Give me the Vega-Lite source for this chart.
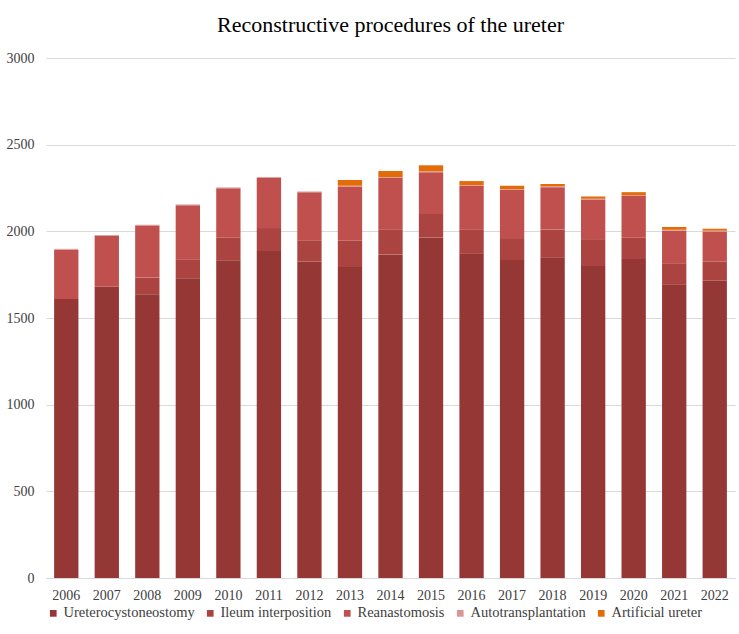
{
  "$schema": "https://vega.github.io/schema/vega-lite/v6.json",
  "width": 739,
  "height": 634,
  "autosize": {"type": "fit", "contains": "padding"},
  "padding": {"left": 6, "right": 4, "top": 14, "bottom": 14},
  "background": "white",
  "title": {
    "text": "Reconstructive procedures of the ureter",
    "font": "Liberation Serif",
    "fontSize": 22,
    "fontWeight": "normal",
    "color": "#000000",
    "offset": 14
  },
  "datasets": {
    "series": [
      {"procedure": "Ureterocystoneostomy", "rank": 1},
      {"procedure": "Ileum interposition", "rank": 2},
      {"procedure": "Reanastomosis", "rank": 3},
      {"procedure": "Autotransplantation", "rank": 4},
      {"procedure": "Artificial ureter", "rank": 5}
    ]
  },
  "data": {
    "values": [
      {"year": "2006", "Ureterocystoneostomy": 1610, "Ileum interposition": 0, "Reanastomosis": 284, "Autotransplantation": 5, "Artificial ureter": 0},
      {"year": "2007", "Ureterocystoneostomy": 1680, "Ileum interposition": 0, "Reanastomosis": 294, "Autotransplantation": 5, "Artificial ureter": 0},
      {"year": "2008", "Ureterocystoneostomy": 1637, "Ileum interposition": 96, "Reanastomosis": 300, "Autotransplantation": 5, "Artificial ureter": 0},
      {"year": "2009", "Ureterocystoneostomy": 1729, "Ileum interposition": 110, "Reanastomosis": 311, "Autotransplantation": 5, "Artificial ureter": 0},
      {"year": "2010", "Ureterocystoneostomy": 1833, "Ileum interposition": 130, "Reanastomosis": 285, "Autotransplantation": 5, "Artificial ureter": 0},
      {"year": "2011", "Ureterocystoneostomy": 1886, "Ileum interposition": 133, "Reanastomosis": 289, "Autotransplantation": 5, "Artificial ureter": 0},
      {"year": "2012", "Ureterocystoneostomy": 1826, "Ileum interposition": 122, "Reanastomosis": 278, "Autotransplantation": 4, "Artificial ureter": 0},
      {"year": "2013", "Ureterocystoneostomy": 1794, "Ileum interposition": 154, "Reanastomosis": 310, "Autotransplantation": 5, "Artificial ureter": 33},
      {"year": "2014", "Ureterocystoneostomy": 1867, "Ileum interposition": 145, "Reanastomosis": 296, "Autotransplantation": 5, "Artificial ureter": 35},
      {"year": "2015", "Ureterocystoneostomy": 1965, "Ileum interposition": 135, "Reanastomosis": 241, "Autotransplantation": 5, "Artificial ureter": 35},
      {"year": "2016", "Ureterocystoneostomy": 1870, "Ileum interposition": 142, "Reanastomosis": 250, "Autotransplantation": 5, "Artificial ureter": 23},
      {"year": "2017", "Ureterocystoneostomy": 1834, "Ileum interposition": 127, "Reanastomosis": 278, "Autotransplantation": 5, "Artificial ureter": 19},
      {"year": "2018", "Ureterocystoneostomy": 1847, "Ileum interposition": 163, "Reanastomosis": 245, "Autotransplantation": 5, "Artificial ureter": 13},
      {"year": "2019", "Ureterocystoneostomy": 1800, "Ileum interposition": 155, "Reanastomosis": 228, "Autotransplantation": 5, "Artificial ureter": 13},
      {"year": "2020", "Ureterocystoneostomy": 1840, "Ileum interposition": 123, "Reanastomosis": 241, "Autotransplantation": 5, "Artificial ureter": 17},
      {"year": "2021", "Ureterocystoneostomy": 1694, "Ileum interposition": 122, "Reanastomosis": 188, "Autotransplantation": 5, "Artificial ureter": 16},
      {"year": "2022", "Ureterocystoneostomy": 1716, "Ileum interposition": 110, "Reanastomosis": 173, "Autotransplantation": 5, "Artificial ureter": 11}
    ]
  },
  "transform": [
    {"fold": ["Ureterocystoneostomy", "Ileum interposition", "Reanastomosis", "Autotransplantation", "Artificial ureter"], "as": ["procedure", "count"]},
    {"lookup": "procedure", "from": {"data": {"name": "series"}, "key": "procedure", "fields": ["rank"]}}
  ],
  "mark": {"type": "bar"},
  "encoding": {
    "x": {
      "field": "year",
      "type": "ordinal",
      "title": null,
      "scale": {"paddingInner": 0.4, "paddingOuter": 0.2},
      "axis": {
        "labelAngle": 0,
        "labelFont": "Liberation Serif",
        "labelFontSize": 14,
        "labelColor": "#404040",
        "domainColor": "#d9d9d9",
        "ticks": false,
        "labelPadding": 10
      }
    },
    "y": {
      "field": "count",
      "type": "quantitative",
      "stack": "zero",
      "title": null,
      "scale": {"domain": [0, 3000], "nice": false},
      "axis": {
        "values": [0, 500, 1000, 1500, 2000, 2500, 3000],
        "format": "d",
        "labelFont": "Liberation Serif",
        "labelFontSize": 14,
        "labelColor": "#404040",
        "domain": false,
        "ticks": false,
        "labelPadding": 12,
        "gridColor": "#d9d9d9"
      }
    },
    "order": {"field": "rank", "type": "quantitative"},
    "color": {
      "field": "procedure",
      "type": "nominal",
      "scale": {
        "domain": ["Ureterocystoneostomy", "Ileum interposition", "Reanastomosis", "Autotransplantation", "Artificial ureter"],
        "range": ["#953735", "#ab4341", "#c0504d", "#d99694", "#e36c09"]
      },
      "legend": {
        "orient": "bottom",
        "direction": "horizontal",
        "title": null,
        "symbolType": "square",
        "symbolSize": 45,
        "labelFont": "Liberation Serif",
        "labelFontSize": 14.5,
        "labelColor": "#404040",
        "columnPadding": 8,
        "labelOffset": 3,
        "offset": 4
      }
    }
  },
  "config": {
    "font": "Liberation Serif",
    "view": {"stroke": null},
    "axis": {"labelFont": "Liberation Serif"},
    "legend": {"labelFont": "Liberation Serif"}
  }
}
